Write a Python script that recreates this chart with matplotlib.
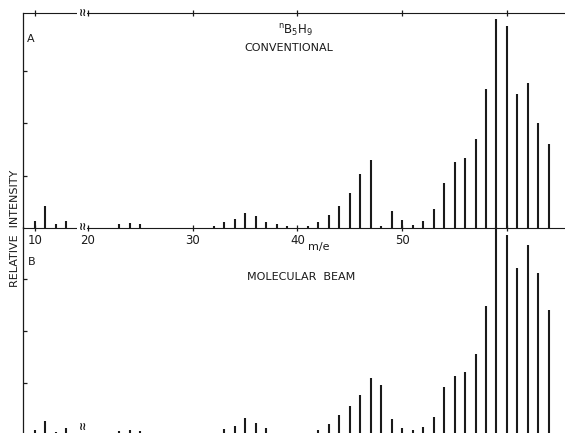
import numpy as np
import matplotlib
matplotlib.use("Agg")
import matplotlib.pyplot as plt

# m/e values of the peaks
masses = [10, 11, 12, 13, 23, 24, 25, 32, 33, 34, 35, 36, 37, 38, 39, 41,
          42, 43, 44, 45, 46, 47, 48, 49, 50, 51, 52, 53, 54, 55, 56, 57,
          58, 59, 60, 61, 62, 63, 64]

# relative intensities (one unit = one tick on the y axis)
conventional = [0.12, 0.41, 0.06, 0.12, 0.07, 0.085, 0.07, 0.03, 0.10, 0.17,
                0.28, 0.22, 0.11, 0.07, 0.03, 0.03, 0.11, 0.24, 0.41, 0.67,
                1.02, 1.30, 0.02, 0.31, 0.14, 0.05, 0.12, 0.35, 0.85, 1.26,
                1.34, 1.70, 2.66, 4.01, 3.87, 2.56, 2.77, 2.00, 1.60]

molecular_beam = [0.09, 0.26, 0.06, 0.13, 0.08, 0.09, 0.08, 0.02, 0.11, 0.18,
                  0.32, 0.23, 0.13, 0.03, 0.02, 0.03, 0.10, 0.21, 0.38, 0.56,
                  0.77, 1.09, 0.96, 0.30, 0.14, 0.10, 0.16, 0.34, 0.93, 1.14,
                  1.21, 1.56, 2.49, 4.20, 3.85, 3.22, 3.65, 3.11, 2.40]

tick_masses = [10, 20, 30, 40, 50, 60]
label_masses = [10, 20, 30, 40, 50]

BREAK_SHIFT = 4.94   # the axis skips m/e ~14-19
BREAK_AT = 14.5

W, H = 565, 433
INK = "#1a1a1a"


def to_axis(m):
    m = np.asarray(m, dtype=float)
    return np.where(m < 16, m, m - BREAK_SHIFT)


def px(x, y):
    return x / W, 1 - y / H


x = to_axis(masses)
xlim = (8.854, 60.6)

fig = plt.figure(figsize=(W / 100, H / 100), dpi=100)
left = 23 / W
ax_a = fig.add_axes([left, 1 - 227.5 / H, 1 - left, 214.5 / H])
ax_b = fig.add_axes([left, 1 - 435 / H, 1 - left, 207.5 / H])

for ax, vals, ytop in [(ax_a, conventional, 214.5 / 52), (ax_b, molecular_beam, 207.5 / 52)]:
    ax.vlines(x, 0, vals, color=INK, lw=1.5)
    ax.set_xlim(*xlim)
    ax.set_ylim(0, ytop)
    ax.set_yticks([1, 2, 3])
    ax.set_yticklabels([])
    ax.tick_params(axis="y", direction="in", length=3, width=0.9, color=INK)
    for s in ax.spines.values():
        s.set_color(INK)
        s.set_linewidth(0.9)
    ax.spines["right"].set_visible(False)
    ax.patch.set_alpha(0)

# panel A: ticks top and bottom, labels only at the bottom
ax_a.set_xticks(to_axis(tick_masses))
ax_a.set_xticklabels([str(m) if m in label_masses else "" for m in tick_masses],
                     fontsize=8.5, color=INK)
ax_a.tick_params(axis="x", which="both", top=True, bottom=True, direction="inout",
                 length=5, width=0.9, color=INK, pad=2.5)
ax_a.spines["bottom"].set_linewidth(0.8)
ax_a.spines["top"].set_linewidth(0.8)

ax_b.set_xticks([])
ax_b.spines["top"].set_visible(False)

# axis break marks
for ax, yv in [(ax_a, 0.0), (ax_a, 1.0), (ax_b, 0.04)]:
    ax.text(to_axis([BREAK_AT])[0], yv, "≀≀", transform=ax.get_xaxis_transform(),
            ha="center", va="center", fontsize=8, fontweight="bold", color=INK,
            bbox=dict(boxstyle="square,pad=0.05", fc="white", ec="none"),
            clip_on=False, zorder=5)

fig.text(*px(31, 39), "A", fontsize=8, color=INK, ha="center", va="center")
fig.text(*px(32, 262), "B", fontsize=8, color=INK, ha="center", va="center")
fig.text(*px(296, 31), r"$^{\mathrm{n}}\mathrm{B_5H_9}$", fontsize=8.5, color=INK,
         ha="center", va="center")
fig.text(*px(289, 48), "CONVENTIONAL", fontsize=8, color=INK, ha="center", va="center")
fig.text(*px(301, 277), "MOLECULAR  BEAM", fontsize=8, color=INK, ha="center", va="center")
fig.text(*px(319, 247), "m/e", fontsize=8, color=INK, ha="center", va="center")
fig.text(*px(15, 228), "RELATIVE  INTENSITY", fontsize=8, color=INK, rotation=90,
         ha="center", va="center")

fig.savefig("out.png", dpi=100, facecolor="white")
